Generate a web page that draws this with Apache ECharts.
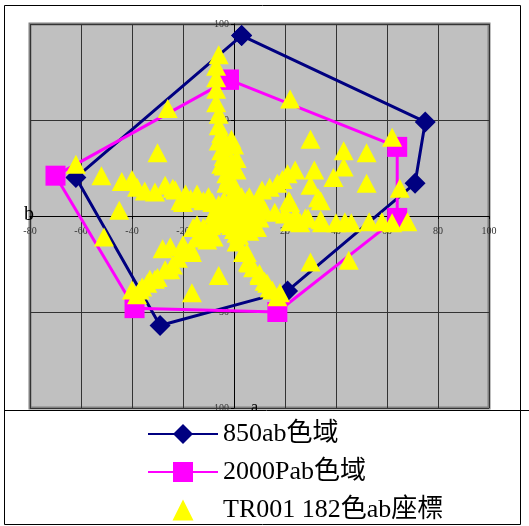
<!DOCTYPE html>
<html>
<head>
<meta charset="utf-8">
<script src="https://cdn.jsdelivr.net/npm/echarts@6/dist/echarts.min.js"></script>
<style>
  html, body { margin: 0; padding: 0; background: #ffffff; }
  #echarts { width: 529px; height: 526px; }
</style>
</head>
<body>
<div id="echarts"></div>
<script>
// gamut outlines (a, b), closed by repeating the first point
const gamut850 = [[3, 94], [75, 49], [71, 17], [21, -39], [-29, -57], [-62, 20], [3, 94]];
const gamut2000P = [[-2, 71], [64, 36], [64, -1], [17, -50], [-39, -48], [-70, 21], [-2, 71]];

// TR001 colour points, grouped roughly by direction from the origin
const tr001Up = [[-6, 84], [-7, 78], [-7, 72], [-7, 66], [-7, 59], [-6, 53], [-6, 47], [-5, 43], [-6, 39], [-1, 40],
  [0, 37], [-5, 34], [-4, 31], [-5, 27], [-4, 26], [1, 24], [-3, 22], [-3, 17], [0, 16], [0, 12], [2, 8], [-2, 20],
  [-1, 28], [-4, 36], [1, 30]];
const tr001Left = [[-26, 56], [-30, 33], [-62, 27], [-52, 21], [-44, 18], [-40, 19], [-38, 15], [-31, 12.5], [-27, 16],
  [-23, 13.5], [-19, 11.5], [-14.5, 11.5], [-10, 10], [-21, 8], [-8.5, 7], [-20, 7], [-24, 14.5], [-45, 3], [-16, -6],
  [-12, -6], [-35, 13], [-17, 9], [-6, 6], [-12, 8]];
const tr001LowLeft = [[-51, -11], [-28, -17], [-20, -15], [-16.5, -19], [-13, -9], [-10.5, -12.5], [-8, -11], [-6, -31],
  [-16.5, -40], [-40, -38.5], [-38, -41], [-36, -37], [-33, -33], [-30, -32], [-27, -28], [-24, -25.5], [-22, -22],
  [-20, -19], [-17, -17], [-14.5, -11.5], [-12, -10], [-9.5, -8], [-14.5, -4.5], [-37, -38.5], [-34, -35], [-31, -33],
  [-25, -28], [-25, -16]];
const tr001LowRight = [[1, -13.5], [3.5, -19], [5.5, -24], [7.5, -27], [10, -31], [12, -34], [14, -37.5], [17, -42],
  [18, -40], [2, -10], [0, -7], [5, -19], [6, -24.5], [10, -30], [13, -35], [15, -38.5]];
const tr001Right = [[22, -3], [26, -3.5], [29, -1], [34.5, -3.5], [40, -3.5], [43.5, -3], [46, -3.5], [53, -3], [58, -3],
  [62, -3.5], [68, -3], [22, 7], [34, 8], [30, -24], [45, -23], [25, -2], [34, -2], [5, 8], [8, 5], [12, 3], [16, 2],
  [20, 1], [24, 0], [28, -1]];
const tr001UpRight = [[22, 61], [62, 41], [30, 40], [43, 34], [52, 33], [24, 24], [31.5, 24], [43, 25.5], [39, 20],
  [30, 16], [52, 17], [65, 14.5], [33, 9.5], [19, 19], [21, 22], [21.5, 8], [11, 13.5], [14, 15], [17, 17], [6, 10],
  [10, 8]];
const tr001Centre = [[0, 0], [2, 2], [-2, 2], [3, -2], [-3, -2], [5, 3], [-5, 3], [4, -5], [-4, -4], [1, 5], [-1, -5],
  [6, 0], [-6, 0], [3, 4], [-3, 5], [7, -3], [-7, -3], [2, -3], [-2, -1], [8, 2], [-8, 1], [4, 6], [-4, 8], [9, -6],
  [-9, -5], [1, -9], [6, -8], [-1, 10], [3, 10], [10, -1]];

const xTicks = { min: -80, max: 100, interval: 20 };
const yTicks = { min: -100, max: 100, interval: 50 };

const tr001 = [].concat(tr001Up, tr001Left, tr001LowLeft, tr001LowRight, tr001Right, tr001UpRight, tr001Centre);

const serif = '"Liberation Serif", "Noto Sans CJK TC", serif';

// plot box in px; axes cross at a = 0, b = 0
const plotLeft = 30, plotTop = 24, plotWidth = 459, plotHeight = 384;
const yAxisShift = plotWidth * (0 - xTicks.min) / (xTicks.max - xTicks.min);
const xAxisShift = plotHeight * (0 - yTicks.min) / (yTicks.max - yTicks.min);

// legend triangle: invisible corner points keep it from stretching across the 70px icon box
const triangleIcon = 'path://M0,0L0,0M70,25L70,25M35,2L45.5,23L24.5,23Z';

const myChart = echarts.init(document.getElementById('echarts'), null, { renderer: 'canvas' });
myChart.setOption({
  animation: false,
  grid: {
    show: true,
    left: plotLeft,
    top: plotTop,
    width: plotWidth,
    height: plotHeight,
    backgroundColor: '#c0c0c0',
    borderColor: '#808080',
    borderWidth: 3,
  },
  legend: {
    orient: 'vertical',
    left: 147,
    top: 421,
    padding: 0,
    itemWidth: 70,
    itemHeight: 25,
    itemGap: 12,
    textStyle: { fontSize: 26, fontFamily: serif, color: '#000000' },
    data: ['850ab色域', '2000Pab色域', { name: 'TR001 182色ab座標', icon: triangleIcon }],
  },
  xAxis: {
    type: 'value',
    position: 'bottom',
    offset: -xAxisShift,
    min: xTicks.min,
    max: xTicks.max,
    interval: xTicks.interval,
    axisLine: { onZero: false, lineStyle: { color: '#000000', width: 1 } },
    axisTick: { show: true, length: 3, lineStyle: { color: '#000000' } },
    axisLabel: { fontSize: 10, fontFamily: serif, color: '#333333', margin: 10 },
    splitLine: { show: true, lineStyle: { color: '#333333', width: 1 } },
  },
  yAxis: {
    type: 'value',
    position: 'left',
    offset: -yAxisShift,
    min: yTicks.min,
    max: yTicks.max,
    interval: yTicks.interval,
    axisLine: { onZero: false, lineStyle: { color: '#000000', width: 1 } },
    axisTick: { show: true, length: 3, lineStyle: { color: '#000000' } },
    axisLabel: { fontSize: 10, fontFamily: serif, color: '#333333', margin: 5 },
    splitLine: { show: true, lineStyle: { color: '#333333', width: 1 } },
  },
  graphic: [
    { type: 'text', z: 1, left: 24, top: 205, style: { text: 'b', font: '20px "Liberation Serif"', fill: '#000000' } },
    { type: 'text', z: 1, left: 251, top: 400, style: { text: 'a', font: '16px "Liberation Serif"', fill: '#000000' } },
    { type: 'rect', z: 3, shape: { x: 5, y: 411, width: 515, height: 113 }, style: { fill: '#ffffff' } },
    { type: 'line', z: 3, shape: { x1: 4, y1: 410.5, x2: 529, y2: 410.5 }, style: { stroke: '#000000', lineWidth: 1 } },
    { type: 'rect', z: 3, shape: { x: 4.5, y: 5.5, width: 516, height: 519 }, style: { fill: 'none', stroke: '#000000', lineWidth: 1 } },
  ],
  series: [
    {
      name: '850ab色域',
      type: 'line',
      data: gamut850,
      symbol: 'diamond',
      symbolSize: 21,
      color: '#000080',
      lineStyle: { width: 3, color: '#000080' },
      itemStyle: { color: '#000080' },
      z: 2,
    },
    {
      name: '2000Pab色域',
      type: 'line',
      data: gamut2000P,
      symbol: 'rect',
      symbolSize: 20,
      color: '#ff00ff',
      lineStyle: { width: 3, color: '#ff00ff' },
      itemStyle: { color: '#ff00ff' },
      z: 2,
    },
    {
      name: 'TR001 182色ab座標',
      type: 'scatter',
      data: tr001,
      symbol: 'triangle',
      symbolSize: [20, 19],
      itemStyle: { color: '#ffff00', opacity: 1 },
      z: 2,
    },
  ],
});
window.addEventListener('resize', myChart.resize);
</script>
</body>
</html>
